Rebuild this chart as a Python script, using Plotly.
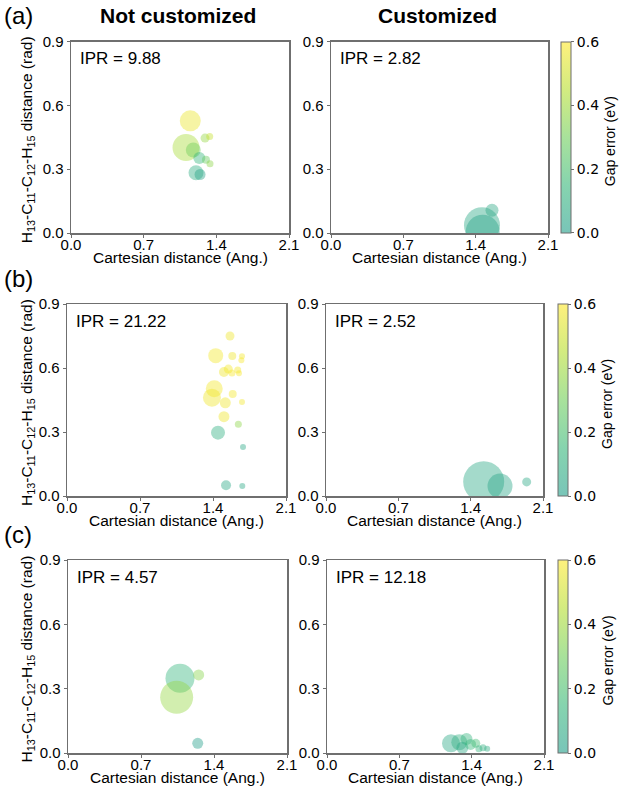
import plotly.graph_objects as go

W, H = 620, 791

# ---------------- data ----------------
a_left_x = [1.149, 1.108, 1.178, 1.291, 1.336, 1.236, 1.300, 1.339, 1.204, 1.243]
a_left_y = [0.527, 0.402, 0.390, 0.446, 0.454, 0.353, 0.344, 0.325, 0.283, 0.275]
a_left_size = [21, 27, 15, 9, 7, 12, 8, 7, 15, 11]
a_left_err = [0.56, 0.42, 0.30, 0.38, 0.48, 0.13, 0.28, 0.36, 0.08, 0.03]

a_right_x = [1.461, 1.468, 1.558]
a_right_y = [0.037, 0.006, 0.107]
a_right_size = [36, 34, 13]
a_right_err = [0.05, 0.03, 0.06]

b_left_x = [1.563, 1.426, 1.585, 1.678, 1.672, 1.505, 1.547, 1.582, 1.637, 1.649,
            1.412, 1.390, 1.589, 1.518, 1.678, 1.505, 1.643, 1.448, 1.688, 1.525, 1.681]
b_left_y = [0.750, 0.658, 0.656, 0.655, 0.636, 0.581, 0.595, 0.577, 0.591, 0.575,
            0.503, 0.461, 0.478, 0.437, 0.441, 0.372, 0.336, 0.297, 0.230, 0.050, 0.047]
b_left_size = [9, 15, 8, 6, 6, 10, 9, 7, 7, 6,
               17, 18, 8, 11, 6, 11, 7, 14, 6, 10, 6]
b_left_err = [0.57, 0.58, 0.57, 0.58, 0.59, 0.57, 0.58, 0.59, 0.58, 0.59,
              0.58, 0.57, 0.58, 0.57, 0.58, 0.57, 0.36, 0.09, 0.05, 0.05, 0.05]

b_right_x = [1.526, 1.684, 1.942]
b_right_y = [0.067, 0.047, 0.066]
b_right_size = [41, 25, 9]
b_right_err = [0.05, 0.04, 0.05]

c_left_x = [1.074, 1.042, 1.253, 1.244]
c_left_y = [0.348, 0.260, 0.364, 0.045]
c_left_size = [29, 33, 11, 11]
c_left_err = [0.13, 0.38, 0.35, 0.0]

c_right_x = [1.20, 1.28, 1.35, 1.31, 1.39, 1.44, 1.47, 1.51, 1.55]
c_right_y = [0.045, 0.050, 0.065, 0.025, 0.040, 0.045, 0.020, 0.025, 0.020]
c_right_size = [18, 16, 12, 12, 11, 9, 7, 7, 6]
c_right_err = [0.05, 0.10, 0.12, 0.06, 0.15, 0.18, 0.12, 0.10, 0.08]

ipr_labels = ["IPR = 9.88", "IPR = 2.82", "IPR = 21.22", "IPR = 2.52", "IPR = 4.57", "IPR = 12.18"]
row_labels = ["(a)", "(b)", "(c)"]
col_titles = ["Not customized", "Customized"]
x_ticks = [0.0, 0.7, 1.4, 2.1]
y_ticks = [0.0, 0.3, 0.6, 0.9]
cb_ticks = [0.0, 0.2, 0.4, 0.6]

panels = [
    (a_left_x, a_left_y, a_left_size, a_left_err),
    (a_right_x, a_right_y, a_right_size, a_right_err),
    (b_left_x, b_left_y, b_left_size, b_left_err),
    (b_right_x, b_right_y, b_right_size, b_right_err),
    (c_left_x, c_left_y, c_left_size, c_left_err),
    (c_right_x, c_right_y, c_right_size, c_right_err),
]

# ---------------- layout geometry (pixels) ----------------
ML, MR, MT, MB = 40, 59, 30, 30
PW, PH = W - ML - MR, H - MT - MB


def fx(px):
    return (px - ML) / PW


def fy(py):
    return (H - MB - py) / PH


rows_px = [  # (top, bottom, leftL, rightL, leftR, rightR, cbx)
    (41.5, 233, 71, 289, 331, 548, 561),
    (304, 496, 67, 286, 326, 543, 558),
    (560, 753, 68, 287, 327, 544, 558),
]

A = 0.6
colorscale = [
    [0.0, f"rgba(31,158,137,{A})"],
    [0.25, f"rgba(53,183,121,{A})"],
    [0.5, f"rgba(110,206,88,{A})"],
    [0.75, f"rgba(181,222,43,{A})"],
    [1.0, f"rgba(253,231,37,{A})"],
]

FONT = "Liberation Sans, Arial, sans-serif"
AXCOL = "#6f6f6f"

fig = go.Figure()
layout = dict(
    width=W, height=H, autosize=False,
    margin=dict(l=ML, r=MR, t=MT, b=MB, pad=0),
    paper_bgcolor="white", plot_bgcolor="white",
    showlegend=False,
    font=dict(family=FONT, size=16, color="black"),
)
annotations = []

for i, (px, py, ps, pe) in enumerate(panels):
    r, c = divmod(i, 2)
    top, bot, lL, rL, lR, rR, cbx = rows_px[r]
    left, right = (lL, rL) if c == 0 else (lR, rR)
    n = i + 1
    xa = "xaxis" if n == 1 else f"xaxis{n}"
    ya = "yaxis" if n == 1 else f"yaxis{n}"
    xref = "x" if n == 1 else f"x{n}"
    yref = "y" if n == 1 else f"y{n}"
    ca = "coloraxis" if r == 0 else f"coloraxis{r + 1}"

    fig.add_trace(go.Scatter(
        x=px, y=py, mode="markers", xaxis=xref, yaxis=yref,
        marker=dict(size=ps, sizemode="diameter", color=pe, coloraxis=ca,
                    line=dict(width=0)),
        hoverinfo="skip",
    ))

    common = dict(showline=True, linecolor=AXCOL, linewidth=1.5, mirror=True,
                  ticks="outside", ticklen=3, tickwidth=1, tickcolor=AXCOL,
                  showgrid=False, zeroline=False, fixedrange=True, automargin=False,
                  tickfont=dict(family=FONT, size=15, color="black"))
    layout[xa] = dict(domain=[fx(left), fx(right)], range=[0, 2.1], anchor=yref,
                      tickvals=x_ticks, ticktext=[f"{v:.1f}" for v in x_ticks],
                      ticklabelstandoff=-6, **common)
    layout[ya] = dict(domain=[fy(bot), fy(top)], range=[0, 0.9], anchor=xref,
                      tickvals=y_ticks, ticktext=[f"{v:.1f}" for v in y_ticks], **common)

    # IPR text
    annotations.append(dict(text=ipr_labels[i], xref="paper", yref="paper",
                            x=fx(left + 7), y=fy(top + 6), xanchor="left", yanchor="top",
                            showarrow=False, font=dict(family=FONT, size=17, color="black")))
    # x title
    annotations.append(dict(text="Cartesian distance (Ang.)", xref="paper", yref="paper",
                            x=fx((left + right) / 2), y=fy(bot + 24), xanchor="center",
                            yanchor="middle", showarrow=False,
                            font=dict(family=FONT, size=15.5, color="black")))
    if c == 0:
        annotations.append(dict(
            text="H<sub>13</sub>-C<sub>11</sub>-C<sub>12</sub>-H<sub>15</sub> distance (rad)",
            xref="paper", yref="paper", x=fx(27), y=fy((top + bot) / 2 + 3),
            xanchor="center", yanchor="middle", textangle=-90, showarrow=False,
            font=dict(family=FONT, size=15.5, color="black")))

    if c == 1:
        layout[ca] = dict(
            cmin=0, cmax=0.6, colorscale=colorscale,
            colorbar=dict(
                x=fx(cbx), xanchor="left", xpad=0, ypad=0,
                y=fy((top + bot) / 2), yanchor="middle",
                len=(bot - top) / PH, lenmode="fraction",
                thickness=10, thicknessmode="pixels",
                outlinecolor=AXCOL, outlinewidth=1,
                ticks="outside", ticklen=3, tickcolor=AXCOL,
                tickvals=cb_ticks, ticktext=[f"{v:.1f}" for v in cb_ticks],
                tickfont=dict(family="DejaVu Sans", size=14, color="black"),
            ),
        )
        annotations.append(dict(
            text="Gap error (eV)", xref="paper", yref="paper",
            x=fx(cbx + 49), y=fy((top + bot) / 2 + 4), xanchor="center", yanchor="middle",
            textangle=-90, showarrow=False,
            font=dict(family=FONT, size=14, color="black")))

for r, lab in enumerate(row_labels):
    top = rows_px[r][0]
    annotations.append(dict(text=lab, xref="paper", yref="paper", x=fx(2),
                            y=fy(top - 26), xanchor="left", yanchor="middle",
                            showarrow=False, font=dict(family=FONT, size=24, color="black")))

for c, t in enumerate(col_titles):
    l, rr = (rows_px[0][2], rows_px[0][3]) if c == 0 else (rows_px[0][4], rows_px[0][5])
    annotations.append(dict(text=f"<b>{t}</b>", xref="paper", yref="paper",
                            x=fx((l + rr) / 2 - 2), y=fy(15), xanchor="center",
                            yanchor="middle", showarrow=False,
                            font=dict(family=FONT, size=21, color="black")))

layout["annotations"] = annotations
fig.update_layout(**layout)
fig.write_html("out.html", config={"displayModeBar": False, "staticPlot": True},
               post_script="document.body.style.margin='0';document.body.style.overflow='hidden';")
